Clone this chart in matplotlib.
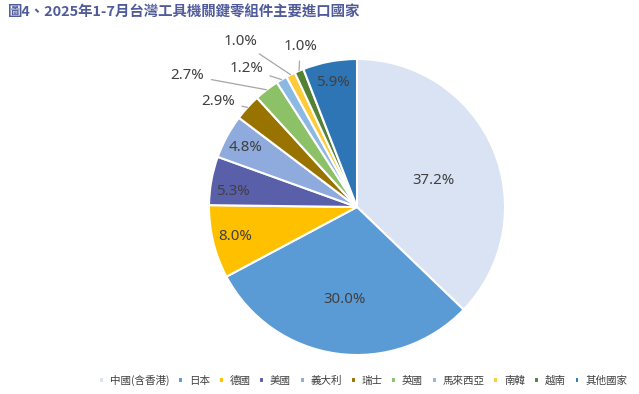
import numpy as np
import matplotlib
matplotlib.use('Agg')
import matplotlib.pyplot as plt

plt.rcParams['font.family'] = ['Noto Sans CJK TC', 'DejaVu Sans']

# data
countries = ['中國(含香港)', '日本', '德國', '美國', '義大利', '瑞士', '英國',
             '馬來西亞', '南韓', '越南', '其他國家']
shares = [37.2, 30.0, 8.0, 5.3, 4.8, 2.9, 2.7, 1.2, 1.0, 1.0, 5.9]
colors = ['#DAE3F3', '#5B9BD5', '#FFC000', '#5A5FAA', '#8FAADC', '#997300',
          '#8CC168', '#8CB8E4', '#FFCA3A', '#548235', '#2E75B6']

# label placement: (radius, angle shift in deg), outside labels get a leader
label_pos = [(0.55, -4), (0.63, 0), (0.85, 0), (0.845, 3), (0.855, 0.5),
             (1.18, 5), (1.45, 14.5), (1.20, 8), (1.37, 8.5), (1.15, -3.5),
             (0.86, 0.3)]
outside = [False] * 5 + [True] * 5 + [False]

fig = plt.figure(figsize=(6.39, 3.94), dpi=100)
cx, cy, r = 357, 207, 148
ax = fig.add_axes([(cx - r) / 639, (394 - cy - r) / 394, 2 * r / 639, 2 * r / 394])

wedges, _ = ax.pie(shares, colors=colors, startangle=90, counterclock=False,
                   radius=1.0, wedgeprops=dict(edgecolor='white', linewidth=1.5))
ax.set_xlim(-1, 1)
ax.set_ylim(-1, 1)
ax.set_aspect('equal')
ax.axis('off')

lab_font = dict(fontsize=10.8, color='#404040', family=['Noto Sans', 'DejaVu Sans'])
for w, val, (rad, shift), out in zip(wedges, shares, label_pos, outside):
    mid = np.deg2rad((w.theta1 + w.theta2) / 2)
    ang = mid + np.deg2rad(shift)
    tx, ty = rad * np.cos(ang), rad * np.sin(ang)
    txt = f'{val:.1f}%'
    if out:
        ax.annotate(txt, xy=(np.cos(mid), np.sin(mid)), xytext=(tx, ty),
                    ha='center', va='center', **lab_font,
                    arrowprops=dict(arrowstyle='-', color='#A6A6A6', lw=0.9,
                                    shrinkA=3, shrinkB=0),
                    annotation_clip=False)
    else:
        ax.text(tx, ty, txt, ha='center', va='center', **lab_font)

fig.text(8 / 639, 1 - 13 / 394, '圖4、2025年1-7月台灣工具機關鍵零組件主要進口國家',
         fontsize=10.4, fontweight='bold', color='#4F5B9A', ha='left', va='center')

leg = fig.legend(wedges, countries, loc='center right', bbox_to_anchor=(0.988, 1 - 380 / 394),
                 ncol=len(countries), frameon=False, fontsize=7.6, handlelength=0.45,
                 handleheight=0.45, handletextpad=0.55, columnspacing=0.85,
                 borderaxespad=0)
for t in leg.get_texts():
    t.set_color('#404040')

fig.savefig('out.png', dpi=100)
